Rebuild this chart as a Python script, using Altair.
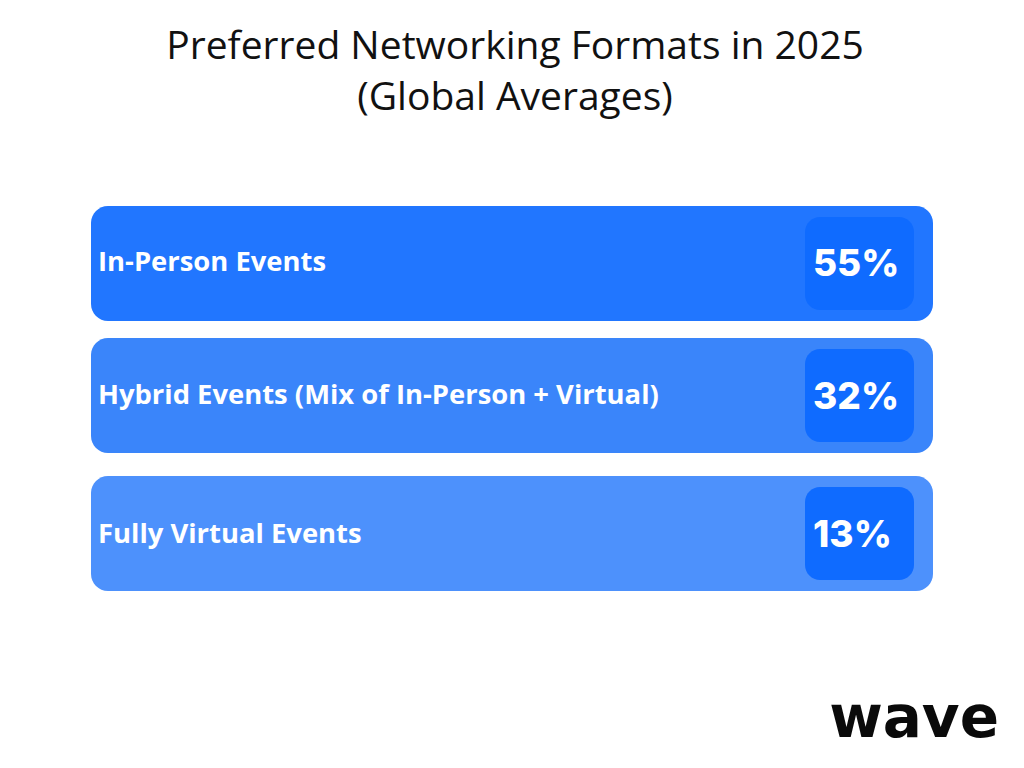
import altair as alt
import pandas as pd

categories = [
    "In-Person Events",
    "Hybrid Events (Mix of In-Person + Virtual)",
    "Fully Virtual Events",
]
shares = [0.55, 0.32, 0.13]
bar_colors = ["#2176FF", "#3A85FA", "#4D91FC"]
title_lines = ["Preferred Networking Formats in 2025", "(Global Averages)"]
logo = "wave"

df = pd.DataFrame({"format": categories, "share": shares})

# the middle row sits a little higher than an even band layout
row_nudge = alt.expr(f"datum.format === '{categories[1]}' ? -3 : 0")

y = alt.Y(
    "format:N",
    sort=categories,
    axis=None,
    scale=alt.Scale(paddingInner=0.148, paddingOuter=0),
)

bars = alt.Chart(df).mark_bar(cornerRadius=17, yOffset=row_nudge).encode(
    y=y,
    x=alt.value(0),
    x2=alt.value(842),
    color=alt.Color(
        "format:N",
        legend=None,
        scale=alt.Scale(domain=categories, range=bar_colors),
    ),
)

boxes = alt.Chart(df).mark_bar(cornerRadius=15, height=93, color="#0F6BFF", yOffset=row_nudge).encode(
    y=y,
    x=alt.value(714),
    x2=alt.value(823),
)

names = alt.Chart(df).mark_text(
    align="left", baseline="middle", dx=7, dy=alt.expr(f"datum.format === '{categories[0]}' ? -1 : datum.format === '{categories[1]}' ? -3 : 2"),
    font="Open Sans", fontWeight=700, fontSize=27.4, color="white"
).encode(
    y=y,
    x=alt.value(0),
    text="format:N",
)

values = alt.Chart(df).mark_text(
    align="left", baseline="middle", dy=alt.expr(f"datum.format === '{categories[1]}' ? -1 : datum.format === '{categories[2]}' ? 3 : 1"),
    font="Inter", fontWeight=800, fontSize=37, color="white"
).encode(
    y=y,
    x=alt.value(722),
    text=alt.Text("share:Q", format=".0%"),
)

brand = alt.Chart(pd.DataFrame({"logo": [logo]})).mark_text(
    align="right", baseline="alphabetic", font="DejaVu Sans", fontWeight=700, fontSize=58, color="#0A0A0A"
).encode(
    x=alt.value(908),
    y=alt.value(531),
    text="logo:N",
)

chart = alt.layer(bars, boxes, names, values, brand).properties(
    width=842,
    height=385,
    padding={"left": 83, "top": 198, "right": 70, "bottom": 170},
    autosize=alt.AutoSizeParams(type="none"),
    title=alt.TitleParams(
        text=title_lines,
        font="Open Sans",
        fontSize=39,
        fontWeight=400,
        lineHeight=51,
        color="#111111",
        anchor="middle",
        dx=3,
        offset=88,
    ),
).configure_view(
    strokeWidth=0
)

chart.save("out.html", embed_options={"renderer": "svg", "actions": False})
